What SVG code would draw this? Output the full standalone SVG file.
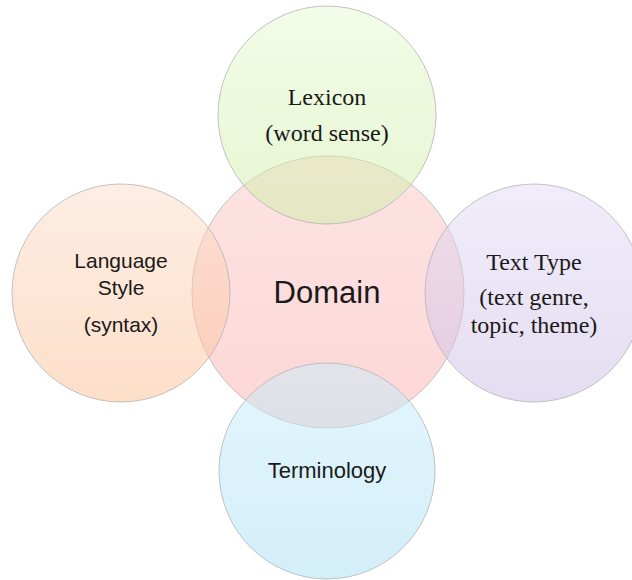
<svg xmlns="http://www.w3.org/2000/svg" width="632" height="580" viewBox="0 0 632 580">
  <defs>
    <linearGradient id="gPink" x1="0" y1="0" x2="0" y2="1">
      <stop offset="0" stop-color="#fcc8c8"/>
      <stop offset="1" stop-color="#faaeae"/>
    </linearGradient>
    <linearGradient id="gGreen" x1="0" y1="0" x2="0" y2="1">
      <stop offset="0" stop-color="#e6f9d0"/>
      <stop offset="1" stop-color="#cdeca4"/>
    </linearGradient>
    <linearGradient id="gPeach" x1="0" y1="0" x2="0" y2="1">
      <stop offset="0" stop-color="#fcdcc8"/>
      <stop offset="1" stop-color="#fbbf94"/>
    </linearGradient>
    <linearGradient id="gLav" x1="0" y1="0" x2="0" y2="1">
      <stop offset="0" stop-color="#e2daf3"/>
      <stop offset="1" stop-color="#cbbce4"/>
    </linearGradient>
    <linearGradient id="gBlue" x1="0" y1="0" x2="0" y2="1">
      <stop offset="0" stop-color="#caedfa"/>
      <stop offset="1" stop-color="#a6def4"/>
    </linearGradient>
  </defs>
  <style>
    .c { fill-opacity: 0.5; stroke: #b4b4b4; stroke-opacity: 0.8; stroke-width: 1; }
    .serif { font-family: "Liberation Serif", "Times New Roman", serif; font-size: 24px; fill: #1a1a1a; text-anchor: middle; }
    .sans { font-family: "Liberation Sans", Arial, sans-serif; font-size: 21px; fill: #1a1a1a; text-anchor: middle; }
  </style>
  <rect width="632" height="580" fill="#ffffff"/>
  <g id="domain">
    <circle class="c" cx="328" cy="292" r="136" fill="url(#gPink)"/>
  </g>
  <g id="lexicon">
    <circle class="c" cx="327" cy="115" r="109" fill="url(#gGreen)"/>
    <text class="serif" x="327" y="105">Lexicon</text>
    <text class="serif" x="327" y="141">(word sense)</text>
  </g>
  <g id="language-style">
    <circle class="c" cx="121" cy="293" r="109" fill="url(#gPeach)"/>
    <text class="sans" x="121" y="268">Language</text>
    <text class="sans" x="121" y="295">Style</text>
    <text class="sans" x="121" y="332">(syntax)</text>
  </g>
  <g id="text-type">
    <circle class="c" cx="534" cy="293" r="109" fill="url(#gLav)"/>
    <text class="serif" x="534" y="270">Text Type</text>
    <text class="serif" x="534" y="305">(text genre,</text>
    <text class="serif" x="534" y="333">topic, theme)</text>
  </g>
  <g id="terminology">
    <circle class="c" cx="327" cy="471" r="108" fill="url(#gBlue)"/>
    <text class="sans" x="327" y="478" style="font-size:22px">Terminology</text>
  </g>
  <g id="domain-label">
    <text class="sans" x="327" y="303" style="font-size:31px">Domain</text>
  </g>
  <g id="connectors"></g>
</svg>
